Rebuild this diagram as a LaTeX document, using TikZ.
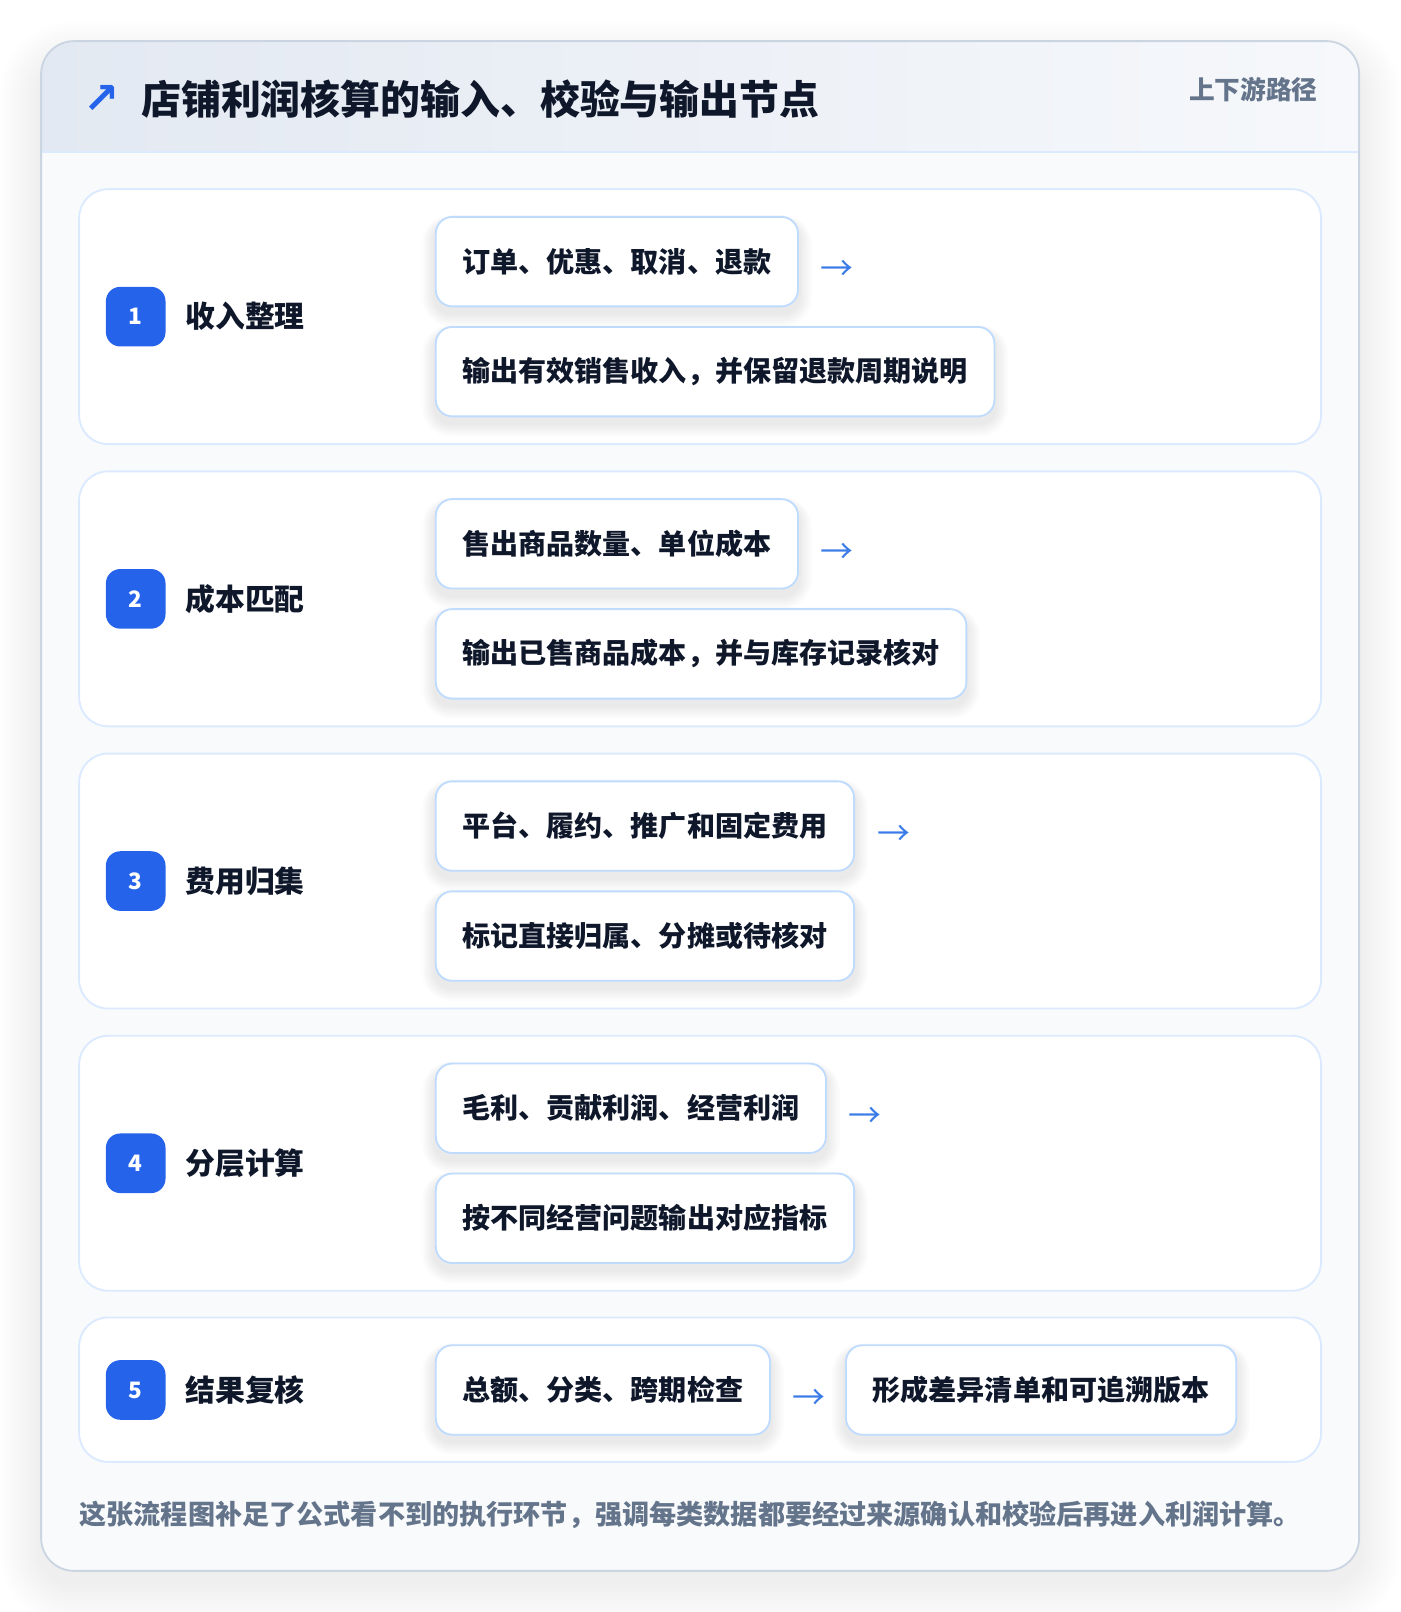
\documentclass[tikz,border=0pt]{standalone}
\usepackage{fontspec}
\setmainfont{Noto Sans CJK SC}
\newfontfamily\symfont{DejaVu Sans}
\definecolor{ink}{HTML}{0F172A}
\definecolor{muted}{HTML}{64748B}
\definecolor{brand}{HTML}{2563EB}
\definecolor{arrowblue}{HTML}{3B7BE8}
\definecolor{panelline}{HTML}{DBEAFE}
\definecolor{boxline}{HTML}{BFDBFE}
\definecolor{cardline}{HTML}{CBD5E1}
\definecolor{bodybg}{HTML}{F8FAFC}
\definecolor{headL}{HTML}{E3E9F2}
\definecolor{headR}{HTML}{F6F8FB}
\pgfdeclarelayer{bg}
\pgfdeclarelayer{sh}
\pgfsetlayers{bg,sh,main}
\newcommand\boxshadow[1]{%
  \begin{pgfonlayer}{sh}
  \foreach \i in {1,...,7}{%
    \pgfmathsetlengthmacro\rr{8pt+\i*0.9pt}%
    \pgfmathsetlengthmacro\ex{\i*0.9pt}%
    \pgfmathsetlengthmacro\dn{-3pt-\i*0.9pt}%
    \pgfmathsetlengthmacro\up{-3pt+\i*0.5pt}%
    \fill[black, opacity=0.010, rounded corners=\rr]
      ([xshift=-\ex, yshift=\dn]#1.south west) rectangle ([xshift=\ex, yshift=\up]#1.north east);
  }%
  \end{pgfonlayer}}
\begin{document}
\begin{tikzpicture}[x=0.5pt,y=-0.5pt,
  itembox/.style={draw=boxline, line width=0.9pt, fill=white, rounded corners=8pt,
    minimum height=43.5pt, inner xsep=13pt, inner ysep=0pt, anchor=west, text=ink,
    font=\fontsize{13.65pt}{16pt}\selectfont\bfseries},
  panelbox/.style={draw=panelline, line width=0.9pt, fill=white, rounded corners=14pt},
  badge/.style={fill=brand, rounded corners=7pt, minimum size=29pt, inner sep=0pt,
    text=white, font=\fontsize{11pt}{13pt}\selectfont\bfseries},
  steplabel/.style={anchor=west, inner sep=0pt, text=ink,
    font=\fontsize{14.5pt}{17pt}\selectfont\bfseries},
  flowarrow/.style={anchor=west, inner sep=0pt, text=arrowblue,
    font=\fontsize{16pt}{18pt}\selectfont}
]
\useasboundingbox (0,0) rectangle (1362,1568);
\begin{pgfonlayer}{bg}
\fill[white] (0,0) rectangle (1362,1568);
% card shadow
\foreach \i in {1,...,16}{%
  \pgfmathsetmacro\ex{\i*2.6}%
  \fill[black, opacity=0.0055, rounded corners=16pt+\i*1.3pt]
    (40-\ex,40-\ex+22) rectangle (1322+\ex,1528+\ex+12);
}
% card
\fill[white, rounded corners=16pt] (40,40) rectangle (1322,1528);
\begin{scope}
  \clip[rounded corners=16pt] (40,40) rectangle (1322,1528);
  \fill[bodybg] (40,148) rectangle (1322,1528);
  \shade[left color=headL, right color=headR] (40,40) rectangle (1322,148);
  \draw[panelline, line width=1pt] (40,148) -- (1322,148);
\end{scope}
\draw[cardline, line width=0.9pt, rounded corners=16pt] (40,40) rectangle (1322,1528);
% panels
\draw[panelbox] (77,184) rectangle (1285,432);
\draw[panelbox] (77,458.5) rectangle (1285,706.5);
\draw[panelbox] (77,733) rectangle (1285,981);
\draw[panelbox] (77,1007.5) rectangle (1285,1255.5);
\draw[panelbox] (77,1281.5) rectangle (1285,1422);
\end{pgfonlayer}

% header
\node[anchor=center, inner sep=0pt, text=brand, font=\symfont\fontsize{21pt}{24pt}\selectfont\bfseries] (icon) at (99,97) {↗};
\node[anchor=west, inner sep=0pt, text=ink, font=\fontsize{19.4pt}{22pt}\selectfont\bfseries] (title) at (137,96) {店铺利润核算的输入、校验与输出节点};
\node[anchor=east, inner sep=0pt, text=muted, font=\fontsize{12.5pt}{15pt}\selectfont\bfseries] (tag) at (1282,87) {上下游路径};

% row 1
\node[badge] (n1) at (132,308) {1};
\node[steplabel] (l1) at (180,308) {收入整理};
\node[itembox] (b11) at (423,254.5) {订单、优惠、取消、退款};
\node[itembox] (b12) at (423,361.5) {输出有效销售收入，并保留退款周期说明};
\node[flowarrow] (a1) at ([xshift=10.5pt,yshift=-4.5pt]b11.east) {→};
\boxshadow{b11}\boxshadow{b12}

% row 2
\node[badge] (n2) at (132,582.5) {2};
\node[steplabel] (l2) at (180,582.5) {成本匹配};
\node[itembox] (b21) at (423,529) {售出商品数量、单位成本};
\node[itembox] (b22) at (423,636) {输出已售商品成本，并与库存记录核对};
\node[flowarrow] (a2) at ([xshift=10.5pt,yshift=-4.5pt]b21.east) {→};
\boxshadow{b21}\boxshadow{b22}

% row 3
\node[badge] (n3) at (132,857) {3};
\node[steplabel] (l3) at (180,857) {费用归集};
\node[itembox] (b31) at (423,803.5) {平台、履约、推广和固定费用};
\node[itembox] (b32) at (423,910.5) {标记直接归属、分摊或待核对};
\node[flowarrow] (a3) at ([xshift=10.5pt,yshift=-4.5pt]b31.east) {→};
\boxshadow{b31}\boxshadow{b32}

% row 4
\node[badge] (n4) at (132,1131.5) {4};
\node[steplabel] (l4) at (180,1131.5) {分层计算};
\node[itembox] (b41) at (423,1078) {毛利、贡献利润、经营利润};
\node[itembox] (b42) at (423,1185) {按不同经营问题输出对应指标};
\node[flowarrow] (a4) at ([xshift=10.5pt,yshift=-4.5pt]b41.east) {→};
\boxshadow{b41}\boxshadow{b42}

% row 5
\node[badge] (n5) at (132,1352) {5};
\node[steplabel] (l5) at (180,1352) {结果复核};
\node[itembox] (b51) at (423,1352) {总额、分类、跨期检查};
\node[flowarrow] (a5) at ([xshift=10.5pt,yshift=-4.5pt]b51.east) {→};
\node[itembox] (b52) at (822,1352) {形成差异清单和可追溯版本};
\boxshadow{b51}\boxshadow{b52}

% footer
\node[anchor=west, inner sep=0pt, text=muted, font=\fontsize{13.2pt}{16pt}\selectfont\bfseries] (note) at (77,1473) {这张流程图补足了公式看不到的执行环节，强调每类数据都要经过来源确认和校验后再进入利润计算。};
\end{tikzpicture}
\end{document}
